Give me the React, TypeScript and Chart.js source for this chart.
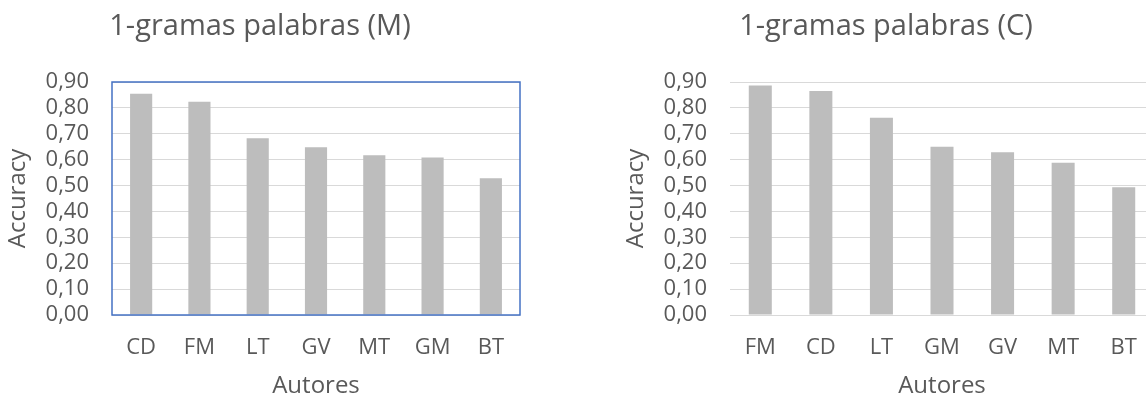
import { useEffect, useRef } from "react";
import { Chart, registerables } from "chart.js";

Chart.register(...registerables);

// Accuracy per author, word 1-grams, (M) set
const autoresM = ["CD", "FM", "LT", "GV", "MT", "GM", "BT"];
const accuracyM = [0.855, 0.824, 0.683, 0.648, 0.617, 0.608, 0.528];

// Accuracy per author, word 1-grams, (C) set
const autoresC = ["FM", "CD", "LT", "GM", "GV", "MT", "BT"];
const accuracyC = [0.886, 0.865, 0.762, 0.65, 0.629, 0.588, 0.493];

const Y_MIN = 0;
const Y_MAX = 0.9;
const Y_STEP = 0.1;

const FONT = "'Open Sans', sans-serif";
const TEXT = "#595959";
const BAR = "#bdbdbd";
const GRID = "#d9d9d9";
const FRAME = "#4472c4";

const CANVAS_H = 403;
const TITLE_SIZE = 29;

// Draws a rectangle around the plot area when enabled.
const plotFrame = {
  id: "plotFrame",
  afterDraw(chart: any, _args: any, opts: any) {
    if (!opts || !opts.color) return;
    const { ctx, chartArea } = chart;
    const { left, top, right, bottom } = chartArea;
    ctx.save();
    ctx.strokeStyle = opts.color;
    ctx.lineWidth = opts.width;
    ctx.strokeRect(left, top, right - left, bottom - top);
    ctx.restore();
  },
};

function makeConfig(
  labels: string[],
  values: number[],
  title: string,
  framed: boolean,
  padRight: number
): any {
  return {
    type: "bar",
    data: {
      labels,
      datasets: [
        {
          data: values,
          backgroundColor: BAR,
          barPercentage: 0.38,
          categoryPercentage: 1,
        },
      ],
    },
    plugins: [plotFrame],
    options: {
      animation: false,
      responsive: false,
      devicePixelRatio: 1,
      layout: { padding: { left: 0, right: padRight, top: 0, bottom: 0 } },
      plugins: {
        legend: { display: false },
        tooltip: { enabled: false },
        title: {
          display: true,
          text: title,
          color: TEXT,
          font: { family: FONT, size: TITLE_SIZE, weight: "normal" },
          padding: { top: 9, bottom: 82 - 9 - TITLE_SIZE * 1.2 },
        },
        plotFrame: framed ? { color: FRAME, width: 1.5 } : { color: null },
      },
      scales: {
        x: {
          grid: { display: false, drawTicks: false },
          border: { display: false },
          ticks: {
            color: TEXT,
            font: { family: FONT, size: 22 },
            padding: 20,
            autoSkip: false,
            maxRotation: 0,
          },
          title: {
            display: true,
            text: "Autores",
            color: TEXT,
            font: { family: FONT, size: 24 },
            padding: { top: 0, bottom: 2 },
          },
          afterFit: (s: any) => {
            s.height = CANVAS_H - 315;
          },
        },
        y: {
          min: Y_MIN,
          max: Y_MAX,
          grid: { color: GRID, lineWidth: 1, drawTicks: false },
          border: { display: false },
          ticks: {
            stepSize: Y_STEP,
            autoSkip: false,
            color: TEXT,
            font: { family: FONT, size: 22 },
            padding: 23,
            callback: (v: number) => v.toFixed(2).replace(".", ","),
          },
          title: {
            display: true,
            text: "Accuracy",
            color: TEXT,
            font: { family: FONT, size: 24 },
            padding: { top: 4, bottom: 0 },
          },
          afterFit: (s: any) => {
            s.width = 112;
          },
        },
      },
    },
  };
}

function BarPanel(props: {
  labels: string[];
  values: number[];
  title: string;
  framed: boolean;
  left: number;
  width: number;
  padRight: number;
}) {
  const ref = useRef<HTMLCanvasElement | null>(null);
  useEffect(() => {
    if (!ref.current) return;
    const chart = new Chart(
      ref.current,
      makeConfig(props.labels, props.values, props.title, props.framed, props.padRight)
    );
    return () => chart.destroy();
  }, []);
  return (
    <canvas
      ref={ref}
      width={props.width}
      height={CANVAS_H}
      style={{ position: "absolute", left: props.left, top: 0 }}
    />
  );
}

export default function App() {
  return (
    <div
      style={{
        position: "fixed",
        left: 0,
        top: 0,
        width: 1146,
        height: CANVAS_H,
        overflow: "hidden",
        background: "#ffffff",
      }}
    >
      <BarPanel
        labels={autoresM}
        values={accuracyM}
        title="1-gramas palabras (M)"
        framed={true}
        left={0}
        width={540}
        padRight={20}
      />
      <BarPanel
        labels={autoresC}
        values={accuracyC}
        title="1-gramas palabras (C)"
        framed={false}
        left={618}
        width={540}
        padRight={4}
      />
    </div>
  );
}
